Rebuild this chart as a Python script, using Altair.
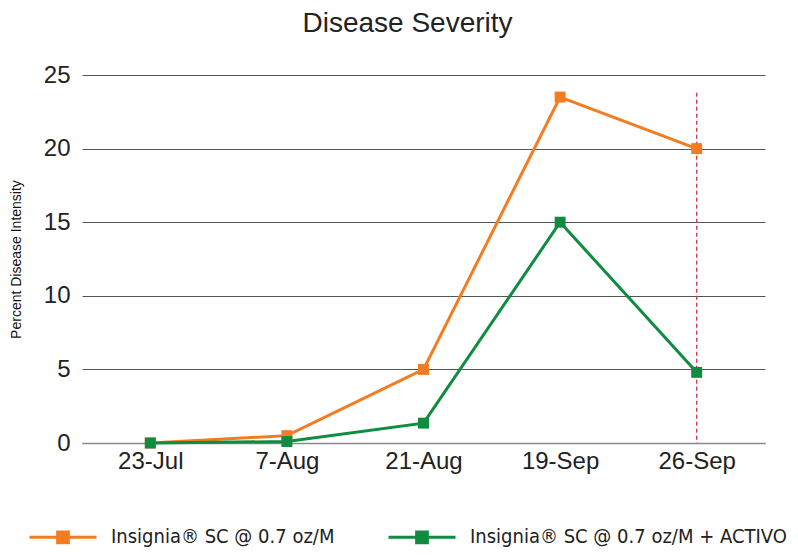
import altair as alt
import pandas as pd

dates = ["23-Jul", "7-Aug", "21-Aug", "19-Sep", "26-Sep"]
insignia = [0.0, 0.5, 5.0, 23.5, 20.0]
insignia_activo = [0.0, 0.1, 1.35, 15.0, 4.8]
series_names = ["Insignia® SC @ 0.7 oz/M", "Insignia®  SC @ 0.7 oz/M + ACTIVO"]
series_colors = ["#F47C20", "#0F8C3F"]
y_ticks = [0, 5, 10, 15, 20, 25]
marker_date = ["26-Sep"]
marker_top = [23.8]
marker_bottom = [0.0]

rows = []
for name, vals in zip(series_names, [insignia, insignia_activo]):
    for d, v in zip(dates, vals):
        rows.append({"date": d, "value": v, "series": name})
df = pd.DataFrame(rows)
marker_df = pd.DataFrame({"date": marker_date, "value": marker_top, "bottom": marker_bottom})

FONT = "Liberation Sans"
NARROW = "DejaVu Sans Condensed, Liberation Sans"

y_scale = alt.Scale(domain=[0, 25], nice=False, zero=True)

x_enc = alt.X("date:N", sort=dates, scale=alt.Scale(type="point", padding=0.5),
              axis=alt.Axis(title=None, labelFontSize=24, labelFont=FONT, labelColor="#222222",
                            labelAngle=0, labelAlign="center", labelBaseline="top",
                            ticks=False, domain=True, domainColor="#8a8a8a",
                            domainWidth=1.5, labelPadding=6, grid=False))
y_enc = alt.Y("value:Q", scale=y_scale,
              axis=alt.Axis(title="Percent Disease Intensity", titleFontSize=14, titleFont=FONT,
                            titleFontWeight="normal", titleColor="#111111", titlePadding=20,
                            values=y_ticks, labelFontSize=24, labelFont=FONT, labelColor="#222222",
                            labelPadding=12, ticks=False, domain=False, grid=True,
                            gridColor="#555555", gridWidth=1))
color_enc = alt.Color("series:N", sort=series_names,
                      scale=alt.Scale(domain=series_names, range=series_colors),
                      legend=alt.Legend(title=None, orient="none", legendX=-54, legendY=427,
                                        direction="horizontal", labelFontSize=20, labelFont=NARROW,
                                        labelColor="#222222", labelLimit=0, labelOffset=13,
                                        columnPadding=47,
                                        symbolType="M-1,0L1,0M-0.16,-0.16L0.16,-0.16L0.16,0.16L-0.16,0.16Z",
                                        symbolSize=4489, symbolStrokeWidth=3, symbolOpacity=1))

lines = alt.Chart(df).mark_line(strokeWidth=3).encode(x=x_enc, y=y_enc, color=color_enc)
points = alt.Chart(df).mark_square(size=120, opacity=1, filled=True).encode(x=x_enc, y=y_enc, color=color_enc)
rule = alt.Chart(marker_df).mark_rule(color="#D9323A", strokeDash=[4, 3], strokeWidth=1.3).encode(
    x=x_enc, y=y_enc, y2="bottom:Q")

chart = alt.layer(rule, lines, points).properties(
    width=683, height=368,
    autosize=alt.AutoSizeParams(type="none"),
    padding={"left": 74, "top": 67, "right": 25, "bottom": 106},
    background="white",
    title=alt.TitleParams("Disease Severity", fontSize=28, font=FONT, fontWeight="normal",
                          color="#222222", anchor="middle", frame="group", dx=-16, offset=25),
).configure_view(stroke=None)

chart.save("out.html", embed_options={"renderer": "svg", "actions": False})
